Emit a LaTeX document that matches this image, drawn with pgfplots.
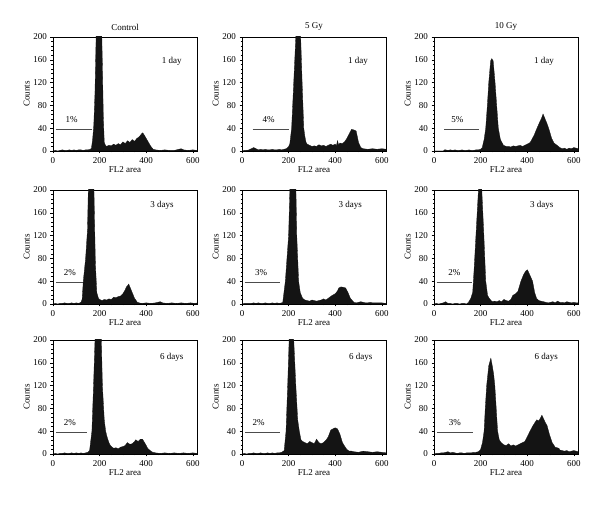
\documentclass[border=0pt]{standalone}
\usepackage{fontspec}
\setmainfont{Liberation Serif}
\usepackage{pgfplots}
\pgfplotsset{compat=1.18}
\tikzset{ann/.style={font=\fontsize{9}{10}\selectfont},
histfill/.style={fill=black!92, draw=black!92, line width=0.3pt},
gate/.style={black!70, line width=0.7pt}}
\pgfplotsset{panel/.style={
  scale only axis, width=144pt, height=114pt,
  xmin=0, xmax=618, ymin=0, ymax=200,
  xtick={0,200,400,600}, ytick={0,40,80,120,160,200},
  minor x tick num=3, minor y tick num=4,
  tick align=outside, xtick pos=bottom, ytick pos=left,
  major tick length=2.5pt, minor tick length=1.5pt,
  every tick/.style={black, line width=0.4pt},
  axis line style={line width=0.5pt},
  tick label style={font=\fontsize{9}{10}\selectfont},
  label style={font=\fontsize{9}{10}\selectfont},
  title style={font=\fontsize{9}{10}\selectfont, yshift=-3pt},
  /pgf/number format/assume math mode=true,
  xlabel={FL2 area}, ylabel={Counts},
  xlabel style={yshift=3pt}, ylabel style={yshift=-3pt},
  clip=true, anchor=south west,
}}
\begin{document}
\begin{tikzpicture}
\path[use as bounding box] (0pt,0pt) rectangle (600pt,506pt);
% ---------- Row 1 ----------
\begin{axis}[panel, at={(53pt,355pt)}, title={Control}]
\addplot[histfill] table {
0 0
10 1
20 0
30 1
40 2
50 1
60 1
70 2
80 1
90 2
100 1
110 2
120 2
130 1
140 2
150 2
160 3
165 5
170 20
175 45
180 100
186 220
195 250
202 245
208 230
212 150
216 60
220 15
225 10
230 8
240 10
250 9
260 12
270 10
280 13
290 11
300 16
310 13
320 18
330 15
340 20
350 17
360 22
370 25
380 30
385 32
390 29
400 22
410 15
420 8
430 3
440 2
460 1
480 2
500 1
520 1
540 3
550 4
560 2
580 1
600 2
620 1
} \closedcycle;
\addplot[gate] coordinates {(12,38) (166,38)};
\node[ann] at (axis cs:80,55) {1\%};
\node[ann] at (axis cs:510,157) {1 day};
\end{axis}
\begin{axis}[panel, at={(242pt,355pt)}, title={5 Gy}]
\addplot[histfill] table {
0 0
10 1
20 1
30 2
40 4
50 6
60 4
70 2
80 3
90 2
100 3
110 2
120 2
130 3
140 2
150 2
160 3
170 2
180 3
190 4
200 8
205 12
213 40
222 120
232 210
240 250
245 245
251 210
258 120
265 40
270 25
275 15
280 12
290 10
300 8
310 9
320 8
330 11
340 9
350 10
360 8
370 10
380 12
390 10
400 12
405 9
410 18
415 10
420 14
430 13
440 16
450 22
460 30
470 38
480 37
490 35
495 25
500 15
510 6
520 4
540 3
560 4
580 3
600 4
620 3
} \closedcycle;
\addplot[gate] coordinates {(46,38) (202,38)};
\node[ann] at (axis cs:114,55) {4\%};
\node[ann] at (axis cs:498,157) {1 day};
\end{axis}
\begin{axis}[panel, at={(434pt,355pt)}, title={10 Gy}]
\addplot[histfill] table {
0 0
40 0
45 2
50 2
60 1
70 2
80 1
90 2
100 1
110 1
120 2
130 1
140 1
150 2
160 1
170 1
180 2
190 2
200 3
207 6
215 20
222 40
229 80
235 120
243 158
248 162
254 158
262 120
269 80
276 40
285 20
298 10
310 8
320 8
330 7
340 9
350 8
360 9
370 10
380 8
390 10
400 12
413 15
430 28
442 40
455 52
462 58
468 65
475 58
485 48
492 40
505 22
515 14
528 10
540 6
550 4
560 5
570 3
580 5
590 4
600 6
610 5
620 4
} \closedcycle;
\addplot[gate] coordinates {(44,38) (193,38)};
\node[ann] at (axis cs:100,55) {5\%};
\node[ann] at (axis cs:472,157) {1 day};
\end{axis}
% ---------- Row 2 ----------
\begin{axis}[panel, at={(53pt,202pt)}]
\addplot[histfill] table {
0 0
10 1
20 0
30 1
40 1
50 2
60 1
70 1
80 2
90 1
100 2
110 1
120 3
125 8
130 40
140 80
148 130
152 210
160 245
168 250
174 240
178 150
182 70
188 20
195 10
200 8
210 6
220 8
230 7
240 9
250 8
261 12
270 11
280 13
290 14
300 18
310 25
315 30
320 32
325 35
330 30
340 20
350 10
362 3
370 2
380 1
400 2
420 1
440 2
450 3
460 4
470 2
490 1
510 2
530 1
550 2
570 1
590 2
610 1
620 2
} \closedcycle;
\addplot[gate] coordinates {(12,38) (128,38)};
\node[ann] at (axis cs:72,55) {2\%};
\node[ann] at (axis cs:468,173) {3 days};
\end{axis}
\begin{axis}[panel, at={(242pt,202pt)}]
\addplot[histfill] table {
0 0
10 1
20 1
30 1
40 1
50 2
60 1
70 2
80 1
90 1
100 2
110 1
120 1
130 2
140 1
150 2
160 1
170 2
175 3
186 40
200 120
206 210
215 250
225 245
231 210
235 120
243 40
250 20
260 10
270 7
280 6
290 5
300 7
310 6
320 5
330 6
340 7
345 8
350 9
360 7
370 10
380 13
387 15
400 18
410 23
415 28
425 30
437 29
445 28
455 20
465 10
480 3
490 2
500 3
510 4
520 3
530 2
540 2
550 3
560 2
580 2
600 2
620 1
} \closedcycle;
\addplot[gate] coordinates {(11,38) (165,38)};
\node[ann] at (axis cs:82,55) {3\%};
\node[ann] at (axis cs:465,173) {3 days};
\end{axis}
\begin{axis}[panel, at={(434pt,202pt)}]
\addplot[histfill] table {
0 0
10 1
20 0
30 1
40 2
50 4
60 1
70 1
80 0
90 1
100 1
110 0
120 1
130 1
140 0
148 3
158 10
166 20
172 60
180 120
192 210
198 240
204 210
214 120
222 40
230 15
237 10
245 6
250 4
260 5
270 4
280 6
290 4
300 8
310 6
320 5
330 8
338 15
350 18
360 22
373 40
385 52
394 58
401 60
410 52
423 40
432 20
440 10
450 6
460 5
470 4
480 3
490 2
500 3
510 4
520 2
530 5
540 3
550 3
560 2
570 4
580 3
590 2
600 3
610 2
620 2
} \closedcycle;
\addplot[gate] coordinates {(11,38) (162,38)};
\node[ann] at (axis cs:87,55) {2\%};
\node[ann] at (axis cs:462,173) {3 days};
\end{axis}
% ---------- Row 3 ----------
\begin{axis}[panel, at={(53pt,52pt)}]
\addplot[histfill] table {
0 0
10 1
20 0
30 1
40 1
50 2
60 1
70 1
80 2
90 1
100 2
110 1
120 2
130 1
140 2
150 3
157 6
167 40
174 120
181 210
190 245
200 250
207 210
212 120
220 60
226 40
232 30
240 20
246 15
253 12
261 10
270 11
280 9
290 12
300 13
310 15
319 20
330 17
340 18
350 22
355 25
365 22
375 26
384 26
390 22
400 15
406 10
420 5
428 3
440 2
460 1
480 2
500 1
520 2
540 1
560 2
580 1
600 2
620 1
} \closedcycle;
\addplot[gate] coordinates {(12,38) (148,38)};
\node[ann] at (axis cs:72,55) {2\%};
\node[ann] at (axis cs:510,169) {6 days};
\end{axis}
\begin{axis}[panel, at={(242pt,52pt)}]
\addplot[histfill] table {
0 0
10 1
20 0
30 1
40 1
50 2
60 1
70 1
80 2
90 1
100 1
110 2
120 1
130 2
140 1
150 2
160 2
170 3
181 6
189 40
196 120
203 210
212 250
221 210
231 120
239 60
246 40
253 25
260 22
270 20
280 18
290 22
300 20
310 18
320 26
330 20
340 18
350 20
360 24
370 30
381 42
390 44
400 46
410 44
420 35
431 20
440 14
450 8
460 5
470 5
480 4
500 3
520 5
540 4
560 3
580 4
600 3
620 2
} \closedcycle;
\addplot[gate] coordinates {(13,38) (164,38)};
\node[ann] at (axis cs:71,55) {2\%};
\node[ann] at (axis cs:510,169) {6 days};
\end{axis}
\begin{axis}[panel, at={(434pt,52pt)}]
\addplot[histfill] table {
0 0
10 1
20 1
30 2
40 2
50 3
60 4
70 2
80 3
90 2
100 1
110 2
120 2
130 1
140 2
150 2
160 2
170 3
180 3
190 4
200 8
208 20
215 40
220 80
226 120
235 155
244 168
250 155
256 140
261 120
267 80
273 40
280 25
288 20
300 16
310 15
320 18
330 14
340 16
350 14
360 16
370 18
380 20
390 22
400 30
412 40
425 50
441 60
450 58
463 68
470 62
478 55
485 50
495 35
507 20
520 12
536 10
540 7
550 6
560 5
570 6
580 4
590 5
600 6
610 5
620 4
} \closedcycle;
\addplot[gate] coordinates {(13,38) (168,38)};
\node[ann] at (axis cs:90,55) {3\%};
\node[ann] at (axis cs:482,169) {6 days};
\end{axis}
\end{tikzpicture}
\end{document}
